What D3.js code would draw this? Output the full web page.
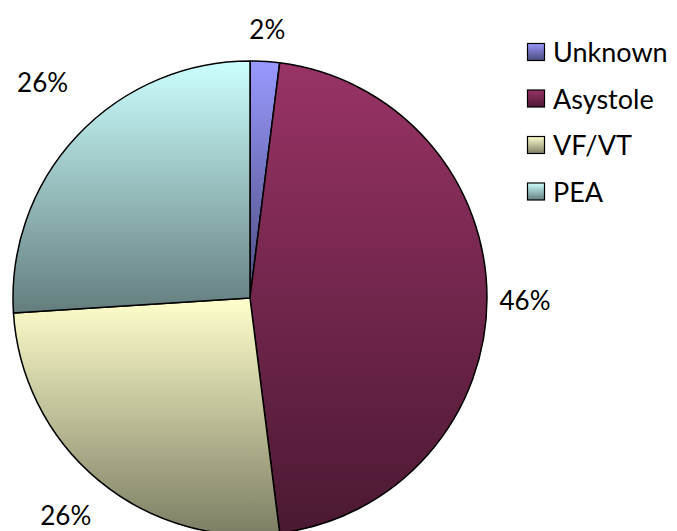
<!DOCTYPE html>
<html>
<head>
<meta charset="utf-8">
<script src="https://cdn.jsdelivr.net/npm/d3@7"></script>
<style>
  html, body { margin: 0; padding: 0; background: #fff; }
  svg { display: block; }
  text { font-family: Lato, "Open Sans", sans-serif; fill: #000; }
</style>
</head>
<body>
<svg id="chart" width="677" height="531"></svg>
<script>
// Rhythm categories and their share (%)
const categories = ["Unknown", "Asystole", "VF/VT", "PEA"];
const shares = [2, 46, 26, 26];
const baseColors = ["#9999ff", "#993366", "#ffffcc", "#ccffff"];

const width = 677, height = 531;
const cx = 250, cy = 298, radius = 237;

// Small hand nudges for the outside labels (px)
const labelNudge = [[0, 5], [0, 2], [-9, 5], [-7, -28]];

const svg = d3.select("#chart");
const defs = svg.append("defs");

// Vertical light-to-dark gradient for each slice and legend key
baseColors.forEach((c, i) => {
  const g = defs.append("linearGradient")
    .attr("id", "grad" + i)
    .attr("x1", 0).attr("y1", 0).attr("x2", 0).attr("y2", 1);
  g.append("stop").attr("offset", "0%").attr("stop-color", c);
  g.append("stop").attr("offset", "100%").attr("stop-color", d3.color(c).darker(2.0));
});

const data = categories.map((name, i) => ({ name, value: shares[i], i }));

const pie = d3.pie().value(d => d.value).sort(null);
const arc = d3.arc().innerRadius(0).outerRadius(radius);
const arcs = pie(data);

const g = svg.append("g").attr("transform", `translate(${cx},${cy})`);

g.selectAll("path.slice")
  .data(arcs)
  .join("path")
  .attr("class", "slice")
  .attr("d", arc)
  .attr("fill", d => `url(#grad${d.data.i})`)
  .attr("stroke", "#000")
  .attr("stroke-width", 1.5)
  .attr("stroke-linejoin", "round");

// Percentage labels outside each slice
const labelR = radius + 38;
g.selectAll("text.pct")
  .data(arcs)
  .join("text")
  .attr("class", "pct")
  .attr("x", d => {
    const a = (d.startAngle + d.endAngle) / 2;
    return labelR * Math.sin(a) + labelNudge[d.data.i][0];
  })
  .attr("y", d => {
    const a = (d.startAngle + d.endAngle) / 2;
    return -labelR * Math.cos(a) + labelNudge[d.data.i][1];
  })
  .attr("text-anchor", "middle")
  .attr("dominant-baseline", "central")
  .attr("font-size", 26)
  .text(d => d3.format(".0f")(d.data.value) + "%");

// Legend
const legend = svg.append("g").attr("transform", "translate(527,43)");
const rowH = 46.5;
const rows = legend.selectAll("g.row")
  .data(data)
  .join("g")
  .attr("class", "row")
  .attr("transform", (d, i) => `translate(0,${i * rowH})`);

rows.append("rect")
  .attr("x", 0.5).attr("y", 0.5)
  .attr("width", 17).attr("height", 17)
  .attr("fill", d => `url(#grad${d.i})`)
  .attr("stroke", "#000")
  .attr("stroke-width", 1.2);

rows.append("text")
  .attr("x", 26)
  .attr("y", 19)
  .attr("font-size", 27)
  .text(d => d.name);
</script>
</body>
</html>
